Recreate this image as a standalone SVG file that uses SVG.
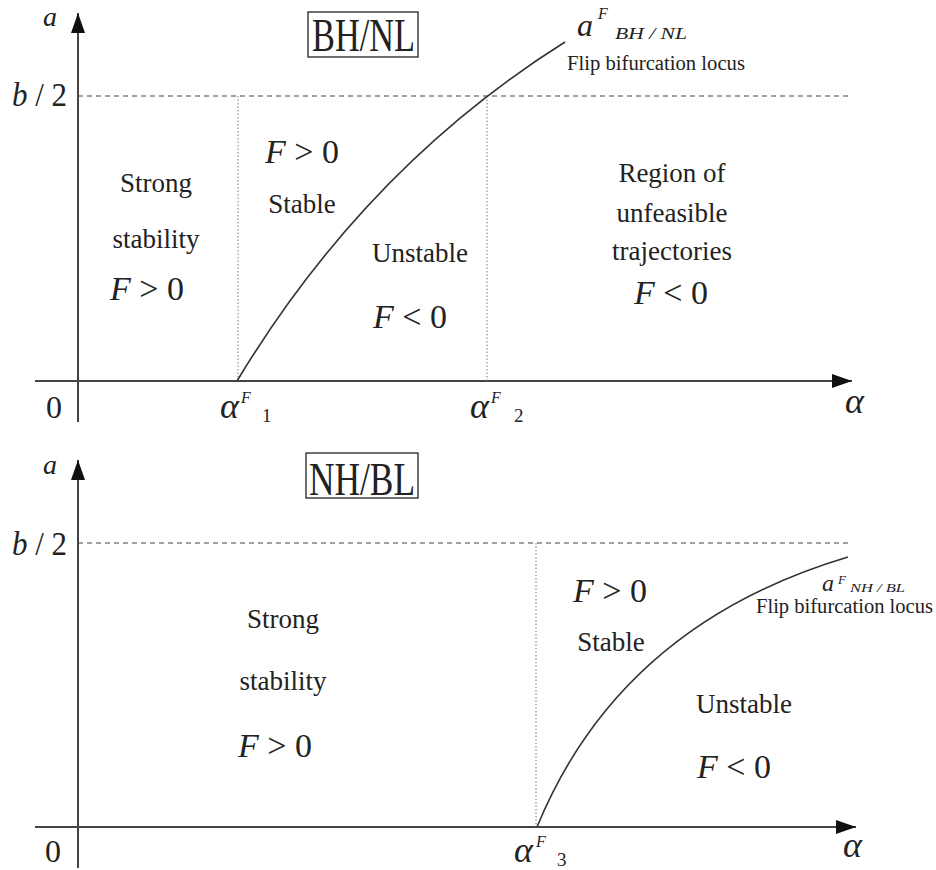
<svg xmlns="http://www.w3.org/2000/svg" width="936" height="870" viewBox="0 0 936 870">
<style>
text{font-family:"Liberation Serif","Times New Roman",serif;fill:#222}
.it{font-style:italic}
.lbl{font-size:27px;text-anchor:middle}
.fx{font-size:34px}
.axis{stroke:#444;stroke-width:2;fill:none}
.dash{stroke:#444;stroke-width:1.2;stroke-dasharray:5 4;fill:none}
.dot{stroke:#777;stroke-width:1;stroke-dasharray:1.5 2;fill:none}
.curve{stroke:#333;stroke-width:1.6;fill:none}
.box{fill:none;stroke:#222;stroke-width:1.3}
</style>
<defs>
<marker id="ah" markerUnits="userSpaceOnUse" markerWidth="22" markerHeight="14" refX="20" refY="7" orient="auto">
<path d="M0,0 L20,7 L0,14 Z" fill="#111"/>
</marker>
</defs>

<g id="top-panel">
<g id="top-lines">
<line class="axis" x1="78" y1="422" x2="78" y2="13" marker-end="url(#ah)"/>
<line class="axis" x1="35" y1="381" x2="852" y2="381" marker-end="url(#ah)"/>
<line class="dash" x1="78" y1="96" x2="849" y2="96"/>
<line class="dot" x1="238" y1="96" x2="238" y2="381"/>
<line class="dot" x1="487" y1="96" x2="487" y2="381"/>
<path class="curve" d="M237,381 Q366,167 565,42"/>
</g>
<text class="it" x="43" y="26" font-size="28">a</text>
<text x="12" y="106" font-size="33" textLength="55" lengthAdjust="spacingAndGlyphs"><tspan class="it">b</tspan> / 2</text>
<text x="46" y="418" font-size="32">0</text>
<g id="alpha1"><text class="it" x="220" y="418" font-size="36">α</text><text class="it" x="241" y="403" font-size="16">F</text><text x="262" y="422" font-size="19">1</text></g>
<g id="alpha2"><text class="it" x="470" y="418" font-size="36">α</text><text class="it" x="491" y="403" font-size="16">F</text><text x="514" y="422" font-size="19">2</text></g>
<text class="it" x="845" y="413" font-size="36">α</text>
<g id="title-top"><rect class="box" x="308" y="12" width="110" height="45"/><text x="312" y="51" font-size="46" textLength="103" lengthAdjust="spacingAndGlyphs">BH/NL</text></g>
<g id="locus-top">
<text class="it" x="577" y="36" font-size="32">a</text>
<text class="it" x="598" y="19" font-size="16">F</text>
<text class="it" x="615" y="39" font-size="17" textLength="72" lengthAdjust="spacingAndGlyphs">BH / NL</text>
<text x="567" y="70" font-size="20" textLength="178" lengthAdjust="spacingAndGlyphs">Flip bifurcation locus</text>
</g>
<g id="region-strong-top">
<text class="lbl" x="156" y="192">Strong</text>
<text class="lbl" x="156" y="248">stability</text>
<text class="fx" x="110" y="300"><tspan class="it">F</tspan> &gt; 0</text>
</g>
<g id="region-stable-top">
<text class="fx" x="265" y="163"><tspan class="it">F</tspan> &gt; 0</text>
<text class="lbl" x="302" y="213">Stable</text>
</g>
<g id="region-unstable-top">
<text class="lbl" x="420" y="262">Unstable</text>
<text class="fx" x="373" y="328"><tspan class="it">F</tspan> &lt; 0</text>
</g>
<g id="region-unfeasible">
<text class="lbl" x="672" y="182">Region of</text>
<text class="lbl" x="672" y="222">unfeasible</text>
<text class="lbl" x="672" y="260">trajectories</text>
<text class="fx" x="634" y="304"><tspan class="it">F</tspan> &lt; 0</text>
</g>
</g>

<g id="bottom-panel">
<g id="bottom-lines">
<line class="axis" x1="78" y1="868" x2="78" y2="460" marker-end="url(#ah)"/>
<line class="axis" x1="35" y1="827" x2="856" y2="827" marker-end="url(#ah)"/>
<line class="dash" x1="78" y1="543" x2="849" y2="543"/>
<line class="dot" x1="536" y1="543" x2="536" y2="827"/>
<path class="curve" d="M537,827 Q620,625 848,557"/>
</g>
<text class="it" x="43" y="474" font-size="28">a</text>
<text x="12" y="555" font-size="33" textLength="55" lengthAdjust="spacingAndGlyphs"><tspan class="it">b</tspan> / 2</text>
<text x="45" y="862" font-size="32">0</text>
<g id="alpha3"><text class="it" x="514" y="862" font-size="36">α</text><text class="it" x="536" y="847" font-size="16">F</text><text x="557" y="866" font-size="19">3</text></g>
<text class="it" x="843" y="857" font-size="36">α</text>
<g id="title-bottom"><rect class="box" x="306" y="453" width="112" height="45"/><text x="309" y="495" font-size="46" textLength="106" lengthAdjust="spacingAndGlyphs">NH/BL</text></g>
<g id="locus-bottom">
<text class="it" x="822" y="591" font-size="24">a</text>
<text class="it" x="838" y="584" font-size="13">F</text>
<text class="it" x="850" y="592" font-size="13" textLength="55" lengthAdjust="spacingAndGlyphs">NH / BL</text>
<text x="756" y="613" font-size="20" textLength="177" lengthAdjust="spacingAndGlyphs">Flip bifurcation locus</text>
</g>
<g id="region-strong-bottom">
<text class="lbl" x="283" y="628">Strong</text>
<text class="lbl" x="283" y="690">stability</text>
<text class="fx" x="238" y="757"><tspan class="it">F</tspan> &gt; 0</text>
</g>
<g id="region-stable-bottom">
<text class="fx" x="573" y="602"><tspan class="it">F</tspan> &gt; 0</text>
<text class="lbl" x="611" y="651">Stable</text>
</g>
<g id="region-unstable-bottom">
<text class="lbl" x="744" y="713">Unstable</text>
<text class="fx" x="697" y="778"><tspan class="it">F</tspan> &lt; 0</text>
</g>
</g>
</svg>
